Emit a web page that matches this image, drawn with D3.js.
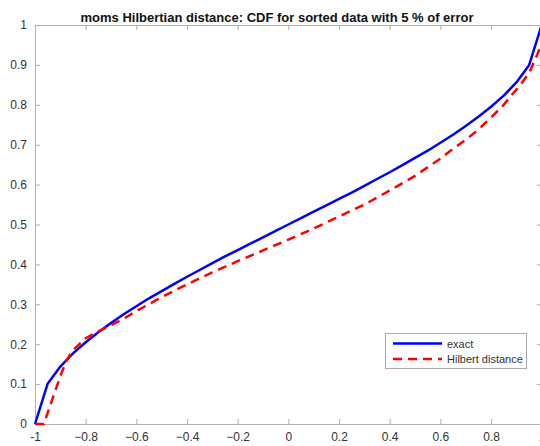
<!DOCTYPE html>
<html><head><meta charset="utf-8">
<script src="https://cdn.jsdelivr.net/npm/d3@7"></script>
<style>body{margin:0;background:#fff;}svg{display:block;font-family:"Liberation Sans",Arial,sans-serif;}</style>
</head><body>
<svg id="c" width="540" height="446"></svg>
<script>
const titleText = "moms Hilbertian distance: CDF for sorted data with 5 % of error";
const seriesNames = ["exact", "Hilbert distance"];
const xTicks = [-1, -0.8, -0.6, -0.4, -0.2, 0, 0.2, 0.4, 0.6, 0.8, 1];
const yTicks = [0, 0.1, 0.2, 0.3, 0.4, 0.5, 0.6, 0.7, 0.8, 0.9, 1];

const exactX = [-1, -0.95, -0.9, -0.85, -0.8, -0.75, -0.7, -0.65, -0.6, -0.55, -0.5, -0.45, -0.4, -0.35, -0.3, -0.25, -0.2, -0.15, -0.1, -0.05, 0,
  0.05, 0.1, 0.15, 0.2, 0.25, 0.3, 0.35, 0.4, 0.45, 0.5, 0.55, 0.6, 0.65, 0.7, 0.75, 0.8, 0.85, 0.9, 0.95, 1];
const exactY = [0, 0.101, 0.144, 0.177, 0.205, 0.230, 0.253, 0.275, 0.295, 0.315, 0.333, 0.351, 0.369, 0.386, 0.403, 0.420, 0.436, 0.452, 0.468, 0.484, 0.5,
  0.516, 0.532, 0.548, 0.564, 0.580, 0.597, 0.614, 0.631, 0.649, 0.667, 0.685, 0.705, 0.725, 0.747, 0.770, 0.795, 0.823, 0.856, 0.899, 1];

const hilbX = [-1, -0.965, -0.93, -0.9, -0.875, -0.85, -0.8, -0.75, -0.7, -0.65, -0.6, -0.5, -0.4, -0.3, -0.2, -0.1, 0, 0.1, 0.2, 0.3, 0.4, 0.5, 0.6, 0.65, 0.7, 0.75, 0.8, 0.85, 0.875, 0.9, 0.925, 0.95, 0.965, 0.985, 1];
const hilbY = [0, 0, 0.065, 0.12, 0.16, 0.185, 0.215, 0.232, 0.248, 0.264, 0.283, 0.318, 0.350, 0.380, 0.408, 0.435, 0.462, 0.490, 0.520, 0.550, 0.585, 0.622, 0.665, 0.690, 0.712, 0.738, 0.768, 0.800, 0.820, 0.838, 0.858, 0.880, 0.900, 0.930, 0.955];

const svg = d3.select("#c");
const L = 35, R = 541.7, T = 25, B = 424;
const x = d3.scaleLinear().domain([-1, 1]).range([L, R]);
const y = d3.scaleLinear().domain([0, 1]).range([B, T]);
const axisCol = "#b0b0b0", textCol = "#333";

const fmt = d => d === 0 ? "0" : (Number.isInteger(d) ? String(d) : d3.format(".1f")(d));
function styleAxis(g){ g.select(".domain").attr("stroke", axisCol); g.selectAll(".tick line").attr("stroke", axisCol); g.selectAll("text").attr("fill", textCol).attr("font-size", 12).attr("font-family", '"Liberation Sans",Arial,sans-serif'); }
svg.append("g").attr("transform", `translate(0,${B})`).call(d3.axisBottom(x).tickValues(xTicks).tickFormat(fmt).tickSizeInner(-5).tickSizeOuter(0).tickPadding(8)).call(styleAxis);
svg.append("g").attr("transform", `translate(0,${T})`).call(d3.axisTop(x).tickValues(xTicks).tickFormat("").tickSizeInner(-5).tickSizeOuter(0)).call(styleAxis);
svg.append("g").attr("transform", `translate(${L},0)`).call(d3.axisLeft(y).tickValues(yTicks).tickFormat(fmt).tickSizeInner(-5).tickSizeOuter(0).tickPadding(8)).call(styleAxis);
svg.append("g").attr("transform", `translate(${R},0)`).call(d3.axisRight(y).tickValues(yTicks).tickFormat("").tickSizeInner(-5).tickSizeOuter(0)).call(styleAxis);

const line = d3.line().x(d => x(d[0])).y(d => y(d[1]));
svg.append("path").datum(d3.zip(exactX, exactY)).attr("d", line).attr("fill", "none").attr("stroke", "#0000ff").attr("stroke-width", 2.5).attr("stroke-linejoin", "round");
svg.append("path").datum(d3.zip(hilbX, hilbY)).attr("d", line).attr("fill", "none").attr("stroke", "#ff0000").attr("stroke-width", 2.5).attr("stroke-dasharray", "9,6");

svg.append("text").attr("x", 277).attr("y", 21.5).attr("text-anchor", "middle").attr("font-weight", "bold").attr("font-size", 13).attr("fill", "#111").text(titleText);

const lg = svg.append("g");
lg.append("rect").attr("x", 385.5).attr("y", 333.5).attr("width", 141).attr("height", 35).attr("fill", "#fff").attr("stroke", "#aaa").attr("stroke-width", 1);
const legendStyles = [{c: "#0000ff", d: null}, {c: "#ff0000", d: "9,6"}];
seriesNames.forEach((n, i) => {
  const yy = 343.5 + i * 15.5;
  const l = lg.append("line").attr("x1", 393).attr("x2", 442).attr("y1", yy).attr("y2", yy).attr("stroke", legendStyles[i].c).attr("stroke-width", 2.5);
  if (legendStyles[i].d) l.attr("stroke-dasharray", legendStyles[i].d);
  lg.append("text").attr("x", 447).attr("y", yy + 4).attr("font-size", 11).attr("fill", textCol).text(n);
});
</script>
</body></html>
